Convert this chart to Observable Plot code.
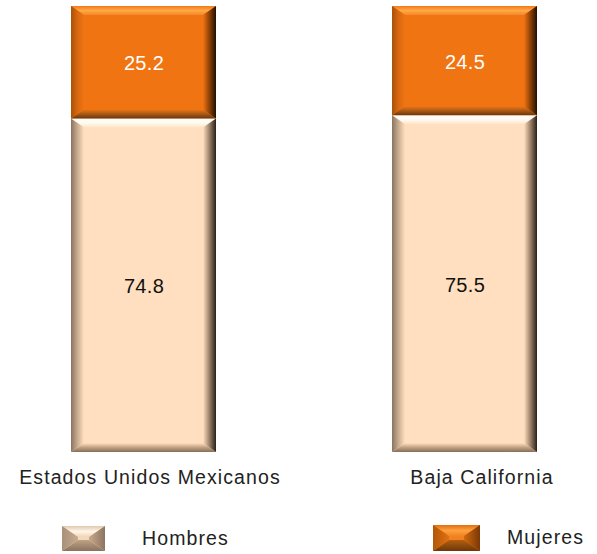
<!DOCTYPE html>
<html><head><meta charset="utf-8">
<script src="https://cdn.jsdelivr.net/npm/d3@7"></script>
<script src="https://cdn.jsdelivr.net/npm/@observablehq/plot@0.6"></script>
<style>
body{margin:0;background:#fff;font-family:"Liberation Sans",Arial,sans-serif;}
#wrap{position:relative;width:597px;height:554px;overflow:hidden;}
.lg{position:absolute;font-size:19.5px;letter-spacing:1.1px;color:#222;line-height:1;}
.ic{position:absolute;}
</style></head><body><div id="wrap"></div>
<script>
const regions = ["Estados Unidos Mexicanos", "Baja California"];
const series = ["Hombres", "Mujeres"];
const hombres = [74.8, 75.5];
const mujeres = [25.2, 24.5];
const colors = ["#ffdfbf", "#f07412"];
const labelColors = ["#111111", "#ffffff"];

const data = [];
regions.forEach((r, i) => {
  data.push({region: r, sexo: series[0], value: hombres[i]});
  data.push({region: r, sexo: series[1], value: mujeres[i]});
});

const palettes = {
  "#f07412": {
    top: ["#f27a18", "#ffa848", "#f5882a"],
    left: ["#a85008", "#d86810", "#f07412"],
    right: ["#f07412", "#8a4008", "#221000"],
    bottom: ["#f07412", "#a85a18", "#6e3608"]
  },
  "#ffdfbf": {
    top: ["#ffffff", "#fffaf0", "#ffe4c6"],
    left: ["#8a7462", "#c8ac90", "#ffdfbf"],
    right: ["#ffdfbf", "#9a8068", "#2a2018"],
    bottom: ["#ffdfbf", "#c0a080", "#85705c"]
  }
};

const NS = "http://www.w3.org/2000/svg";
let gid = 0;
function grad(defs, stops, x1, y1, x2, y2) {
  const id = "bvg" + (gid++);
  const lg = document.createElementNS(NS, "linearGradient");
  lg.setAttribute("id", id);
  lg.setAttribute("x1", x1); lg.setAttribute("y1", y1);
  lg.setAttribute("x2", x2); lg.setAttribute("y2", y2);
  stops.forEach((c, i) => {
    const s = document.createElementNS(NS, "stop");
    s.setAttribute("offset", i / (stops.length - 1));
    s.setAttribute("stop-color", c);
    lg.appendChild(s);
  });
  defs.appendChild(lg);
  return "url(#" + id + ")";
}
function poly(parent, pts, fill) {
  const p = document.createElementNS(NS, "polygon");
  p.setAttribute("points", pts.map(d => d.join(",")).join(" "));
  p.setAttribute("fill", fill);
  parent.appendChild(p);
}
function drawBevel(parent, defs, x, y, w, h, pal, bh, bv) {
  poly(parent, [[x, y], [x + w, y], [x + w - bh, y + bv], [x + bh, y + bv]], grad(defs, pal.top, 0, 0, 0, 1));
  poly(parent, [[x, y + h], [x + w, y + h], [x + w - bh, y + h - bv], [x + bh, y + h - bv]], grad(defs, pal.bottom, 0, 0, 0, 1));
  poly(parent, [[x, y], [x + bh, y + bv], [x + bh, y + h - bv], [x, y + h]], grad(defs, pal.left, 0, 0, 1, 0));
  poly(parent, [[x + w, y], [x + w - bh, y + bv], [x + w - bh, y + h - bv], [x + w, y + h]], grad(defs, pal.right, 0, 0, 1, 0));
}
function bevelRender(index, scales, values, dimensions, context, next) {
  const g = next(index, scales, values, dimensions, context);
  const defs = document.createElementNS(NS, "defs");
  g.appendChild(defs);
  for (const r of Array.from(g.querySelectorAll("rect"))) {
    const x = +r.getAttribute("x"), y = +r.getAttribute("y");
    const w = +r.getAttribute("width"), h = +r.getAttribute("height");
    const pal = palettes[(r.getAttribute("fill") || "").toLowerCase()];
    if (pal) drawBevel(r.parentNode, defs, x, y, w, h, pal, 13, 9);
  }
  return g;
}

const W = 597, H = 500;
const chart = Plot.plot({
  width: W, height: H,
  marginTop: 6, marginBottom: 48, marginLeft: 38, marginRight: 28,
  style: {fontFamily: "Liberation Sans, Arial, sans-serif", background: "transparent"},
  x: {domain: regions, paddingInner: 0.549, paddingOuter: 0.1, axis: null},
  y: {domain: [0, 100], axis: null},
  color: {type: "identity"},
  marks: [
    Plot.barY(data, Plot.stackY({
      x: "region", y: "value", z: "sexo",
      fill: d => colors[series.indexOf(d.sexo)],
      render: bevelRender
    })),
    Plot.text(data, Plot.stackY({
      x: "region", y: "value", z: "sexo",
      text: d => d.value.toFixed(1),
      fill: d => labelColors[series.indexOf(d.sexo)],
      fontSize: 20, dy: 1
    })),
    Plot.text([regions[0]], {
      x: d => d, frameAnchor: "bottom", dy: 31, dx: 6,
      text: d => d, fontSize: 19.5, fill: "#222"
    }),
    Plot.text([regions[1]], {
      x: d => d, frameAnchor: "bottom", dy: 31, dx: 17,
      text: d => d, fontSize: 19.5, fill: "#222"
    })
  ]
});
chart.querySelectorAll("text").forEach(t => {
  const n = t.textContent;
  t.setAttribute("letter-spacing", /^[0-9.]+$/.test(n) ? "0.3" : "1.1");
});
const wrap = document.getElementById("wrap");
wrap.appendChild(chart);

// legend
function legendIcon(left, top, w, h, color) {
  const svg = document.createElementNS(NS, "svg");
  svg.setAttribute("width", w); svg.setAttribute("height", h);
  svg.setAttribute("class", "ic");
  svg.style.left = left + "px"; svg.style.top = top + "px";
  const defs = document.createElementNS(NS, "defs");
  svg.appendChild(defs);
  const bg = document.createElementNS(NS, "rect");
  bg.setAttribute("width", w); bg.setAttribute("height", h); bg.setAttribute("fill", color === colors[0] ? "#f2d8bc" : "#f08020");
  svg.appendChild(bg);
  const pal = color === colors[0] ? {
    top: ["#e0c8b0", "#fff6e8", "#f0d4b4"],
    left: ["#a8907a", "#c8aa8c"],
    right: ["#c8aa8c", "#8c7460"],
    bottom: ["#c0a286", "#8a7260"]
  } : {
    top: ["#e07010", "#ffa040", "#f08420"],
    left: ["#b05808", "#e07010"],
    right: ["#d06810", "#7a3806"],
    bottom: ["#b06010", "#6e3608"]
  };
  drawBevel(svg, defs, 0, 0, w, h, pal, 16, 11);
  wrap.appendChild(svg);
}
function legendText(left, top, txt) {
  const d = document.createElement("div");
  d.className = "lg"; d.textContent = txt;
  d.style.left = left + "px"; d.style.top = top + "px";
  wrap.appendChild(d);
}
legendIcon(62, 526, 43, 25, colors[0]);
legendText(142, 529, series[0]);
legendIcon(433, 525, 47, 26, colors[1]);
legendText(507, 528, series[1]);
</script>
</body></html>
